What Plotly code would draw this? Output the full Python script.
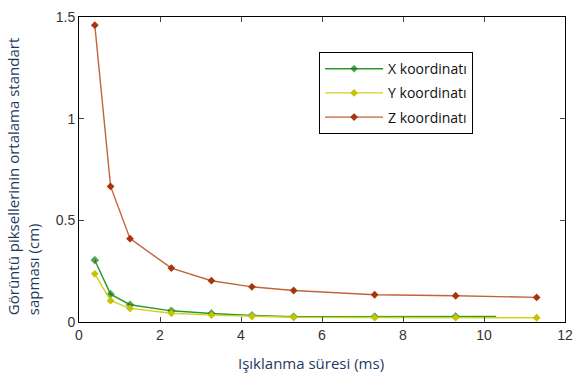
import plotly.graph_objects as go

# Exposure time (ms) and per-axis standard deviation of image pixels (cm)
t_x = [0.39, 0.78, 1.26, 2.28, 3.27, 4.27, 5.30, 7.30, 9.30, 10.30]
sd_x = [0.304, 0.137, 0.085, 0.055, 0.042, 0.032, 0.026, 0.026, 0.027, 0.027]
marker_x = [6, 6, 6, 6, 6, 6, 6, 6, 6, 0]

t_y = [0.39, 0.78, 1.26, 2.28, 3.27, 4.27, 5.30, 7.30, 9.30, 11.30]
sd_y = [0.237, 0.105, 0.067, 0.043, 0.034, 0.028, 0.023, 0.022, 0.022, 0.021]

t_z = [0.39, 0.78, 1.26, 2.28, 3.27, 4.27, 5.30, 7.30, 9.30, 11.30]
sd_z = [1.46, 0.667, 0.41, 0.265, 0.203, 0.173, 0.155, 0.134, 0.129, 0.121]

x_ticks = [0, 2, 4, 6, 8, 10, 12]
y_ticks = [0, 0.5, 1, 1.5]
y_tick_text = ["0", "0.5", "1", "1.5"]

fig = go.Figure()

series = [
    ("X koordinatı", t_x, sd_x, "#2f962f", "#0f750f", marker_x),
    ("Y koordinatı", t_y, sd_y, "#d2d21e", "#c4c400", 6),
    ("Z koordinatı", t_z, sd_z, "#c0643c", "#a8360c", 6),
]
for i, (name, xs, ys, lc, mc, ms) in enumerate(series):
    fig.add_trace(go.Scatter(
        x=xs, y=ys, name=name, mode="lines+markers",
        line=dict(color=lc, width=1.4),
        marker=dict(symbol="diamond", size=ms, color=mc),
        legendgroup=f"g{i}",
    ))

axis_font = dict(family="Liberation Sans, Arial, sans-serif", size=14, color="#333333")
title_color = "#1f3a5f"

fig.update_layout(
    width=582, height=376,
    margin=dict(l=79, r=9, t=16, b=54),
    paper_bgcolor="white", plot_bgcolor="white",
    showlegend=True,
    legend=dict(
        x=0.494, y=0.885, xanchor="left", yanchor="top",
        bordercolor="#000000", borderwidth=1, bgcolor="white",
        font=dict(family="Open Sans, sans-serif", size=14, color="#111111"),
        itemwidth=58, tracegroupgap=3,
    ),
    xaxis=dict(
        range=[0, 12], tickvals=x_ticks, ticks="inside", ticklen=5,
        showline=True, linecolor="#000000", linewidth=1, mirror="ticks",
        showgrid=False, zeroline=False, tickfont=axis_font,
    ),
    yaxis=dict(
        range=[0, 1.5], tickvals=y_ticks, ticktext=y_tick_text,
        ticks="inside", ticklen=5,
        showline=True, linecolor="#000000", linewidth=1, mirror="ticks",
        showgrid=False, zeroline=False, tickfont=axis_font,
    ),
)

fig.add_annotation(
    text="Işıklanma süresi (ms)",
    xref="paper", yref="paper", x=0.478, y=-0.095,
    xanchor="center", yanchor="top", showarrow=False,
    font=dict(family="Open Sans, sans-serif", size=15, color=title_color),
)

fig.add_annotation(
    text="Görüntü piksellerinin ortalama standart<br>sapması (cm)",
    xref="paper", yref="paper", x=-0.16, y=0.015,
    xanchor="left", yanchor="bottom", textangle=-90, align="left",
    showarrow=False,
    font=dict(family="Open Sans, sans-serif", size=15, color=title_color),
)

fig.write_html("out.html")
